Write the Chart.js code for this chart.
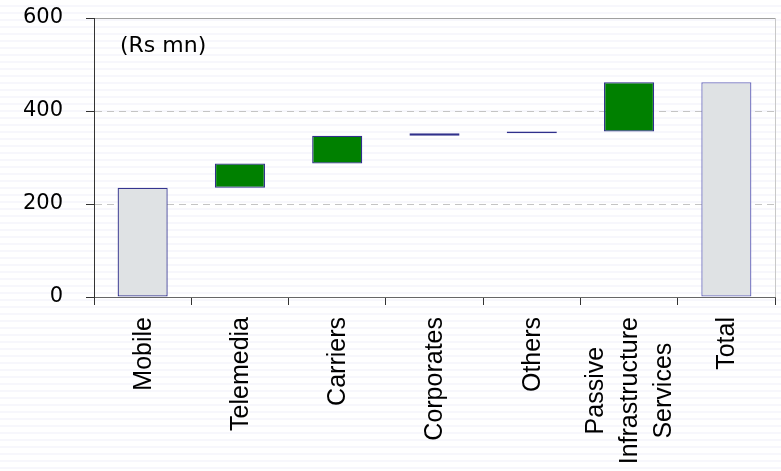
<!DOCTYPE html>
<html>
<head>
<meta charset="utf-8">
<script src="https://cdn.jsdelivr.net/npm/chart.js@4/dist/chart.umd.min.js"></script>
<style>
  html, body { margin: 0; padding: 0; }
  body {
    width: 781px; height: 471px; overflow: hidden;
    background: repeating-linear-gradient(to bottom, #ffffff 0px, #ffffff 5px, #f7f7fc 5px, #f7f7fc 7px);
  }
  canvas { display: block; }
</style>
</head>
<body>
<canvas id="chart" width="781" height="471"></canvas>
<script>
// Revenue build-up by segment (Rs mn)
const categories = ['Mobile', 'Telemedia', 'Carriers', 'Corporates', 'Others',
                    ['Passive', 'Infrastructure', 'Services'], 'Total'];
const segmentValues = [235, 52, 60, 5, 4, 106];   // Mobile is the base, the rest add on
const totalValue = 462;
const yTicks = [0, 200, 400, 600];
const unitLabel = '(Rs mn)';

// floating [start, end] pairs for the waterfall
const ranges = [];
let running = 0;
segmentValues.forEach((v) => {
  ranges.push([running, running + v]);
  running += v;
});
ranges.push([0, totalValue]);
const isTotal = ranges.map((r, i) => i === 0 || i === ranges.length - 1);

const fills = isTotal.map(t => t ? '#dfe2e4' : '#008000');
const borders = ranges.map((r, i) => i === ranges.length - 1 ? '#6c6cbc' : (i === 0 ? '#35358f' : '#30308c'));

const unitLabelPlugin = {
  id: 'unitLabel',
  afterDraw(chart) {
    const ctx = chart.ctx;
    ctx.save();
    ctx.font = '22px "DejaVu Sans"';
    ctx.fillStyle = '#000';
    ctx.textAlign = 'left';
    ctx.textBaseline = 'alphabetic';
    ctx.fillText(unitLabel, 120, 52);
    ctx.restore();
  }
};

// vertical category labels, lines centred inside a block hanging below the axis
const categoryLabelPlugin = {
  id: 'categoryLabels',
  afterDraw(chart) {
    const ctx = chart.ctx;
    const xs = chart.scales.x;
    const top = chart.chartArea.bottom + 20;
    const pitch = 34;
    ctx.save();
    ctx.font = '25px "Liberation Sans"';
    ctx.fillStyle = '#000';
    ctx.textAlign = 'center';
    ctx.textBaseline = 'middle';
    categories.forEach((cat, i) => {
      const lines = Array.isArray(cat) ? cat : [cat];
      const len = Math.max(...lines.map(l => ctx.measureText(l).width));
      const cx = xs.getPixelForValue(i) + 1;
      lines.forEach((line, j) => {
        const off = (j - (lines.length - 1) / 2) * pitch;
        ctx.save();
        ctx.translate(cx + off, top + len / 2);
        ctx.rotate(-Math.PI / 2);
        ctx.fillText(line, 0, 0);
        ctx.restore();
      });
    });
    ctx.restore();
  }
};

new Chart(document.getElementById('chart'), {
  type: 'bar',
  data: {
    labels: categories.map(c => Array.isArray(c) ? c.join(' ') : c),
    datasets: [{
      data: ranges,
      backgroundColor: fills,
      borderColor: borders,
      borderWidth: 1.3,
      borderSkipped: false,
      categoryPercentage: 1,
      barPercentage: 0.515
    }]
  },
  options: {
    responsive: false,
    devicePixelRatio: 1,
    animation: false,
    layout: { padding: { top: 18, right: 6, left: 0, bottom: 0 } },
    plugins: { legend: { display: false }, tooltip: { enabled: false }, title: { display: false } },
    scales: {
      x: {
        offset: true,
        ticks: { display: false },
        grid: {
          offset: true,
          drawOnChartArea: true,
          drawTicks: true,
          tickLength: 8,
          tickColor: '#333',
          color: c => c.type === 'scale' ? '#c8c8c8' : 'rgba(0,0,0,0)'
        },
        border: { display: true, color: '#666', width: 1 },
        afterFit: s => { s.height = 174; s.paddingLeft = 0; s.paddingRight = 0; }
      },
      y: {
        min: 0,
        max: 600,
        afterBuildTicks: s => { s.ticks = yTicks.map(v => ({ value: v })); },
        ticks: {
          font: { family: 'DejaVu Sans', size: 21 },
          color: '#000',
          padding: 23
        },
        grid: {
          tickLength: 8,
          tickColor: '#333',
          color: c => {
            if (!c.tick) return '#c4c4c4';
            if (c.tick.value === 0) return 'rgba(0,0,0,0)';
            if (c.tick.value === 600) return '#a0a0a0';
            return '#c4c4c4';
          }
        },
        border: {
          display: true, color: '#333', width: 1,
          dash: c => (c.tick && c.tick.value > 0 && c.tick.value < 600) ? [7, 5] : []
        },
        afterFit: s => { s.width = 94; s.paddingTop = 0; s.paddingBottom = 0; }
      }
    }
  },
  plugins: [unitLabelPlugin, categoryLabelPlugin]
});
</script>
</body>
</html>
